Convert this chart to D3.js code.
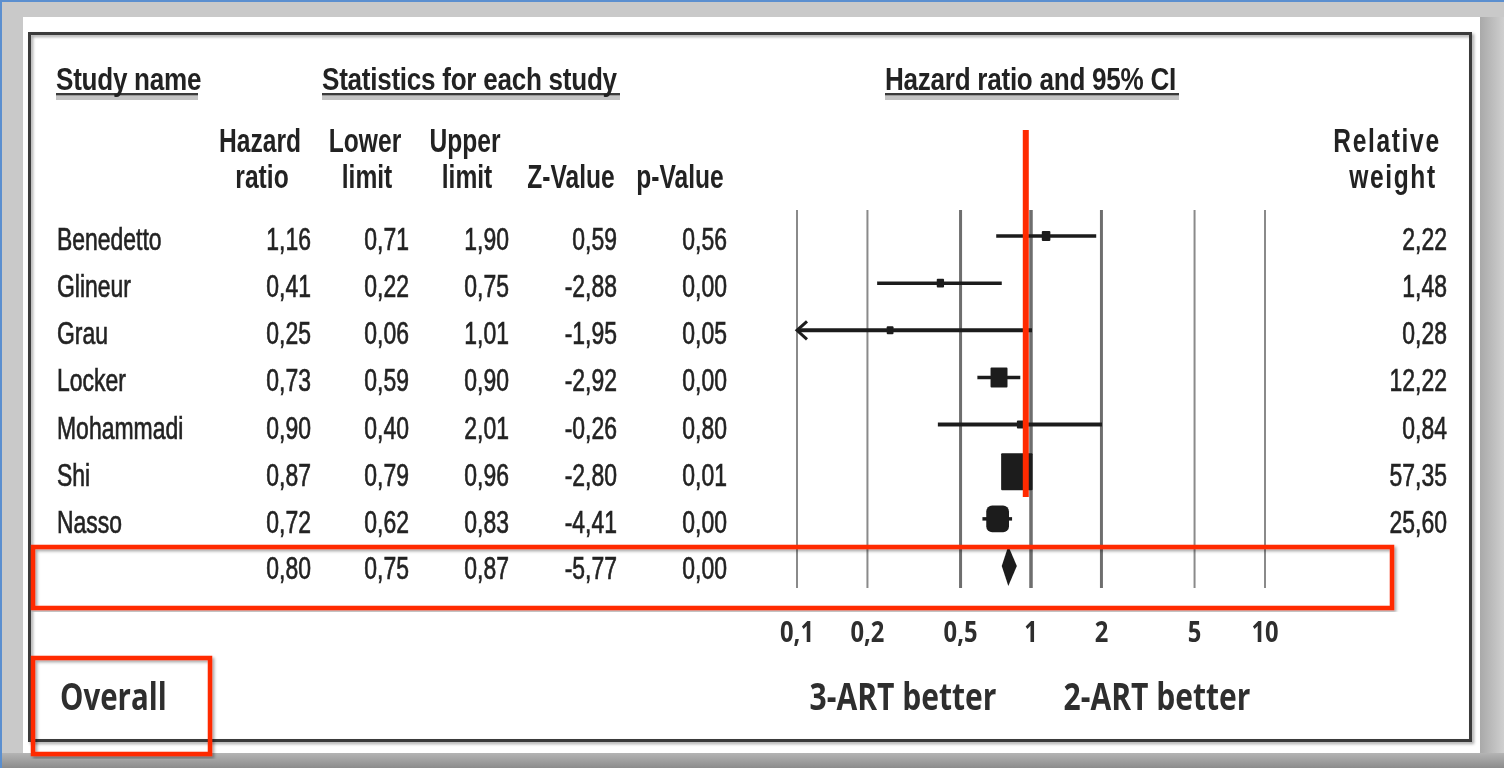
<!DOCTYPE html>
<html>
<head>
<meta charset="utf-8">
<script src="https://cdn.jsdelivr.net/npm/d3@7"></script>
<style>
  body { margin: 0; background: #c9c9c9; }
  svg { display: block; }
  .narrow { font-family: "Liberation Sans", Arial, sans-serif; fill: #242424; }
  .big { font-family: "Open Sans", "Noto Sans", sans-serif; fill: #2e2e2e; }
</style>
</head>
<body>
<script>
// study rows
const studies = ["Benedetto", "Glineur", "Grau", "Locker", "Mohammadi", "Shi", "Nasso"];
const hazard = [1.16, 0.41, 0.25, 0.73, 0.90, 0.87, 0.72];
const lower = [0.71, 0.22, 0.06, 0.59, 0.40, 0.79, 0.62];
const upper = [1.90, 0.75, 1.01, 0.90, 2.01, 0.96, 0.83];
const zValue = [0.59, -2.88, -1.95, -2.92, -0.26, -2.80, -4.41];
const pValue = [0.56, 0.00, 0.05, 0.00, 0.80, 0.01, 0.00];
const weight = [2.22, 1.48, 0.28, 12.22, 0.84, 57.35, 25.60];
// pooled row: hazard, lower, upper, z, p
const overall = [0.80, 0.75, 0.87, -5.77, 0.00];
const ticks = [0.1, 0.2, 0.5, 1, 2, 5, 10];
const tickLabels = ["0,1", "0,2", "0,5", "1", "2", "5", "10"];

const width = 1504, height = 768;
const fmt = d3.formatLocale({decimal: ",", thousands: ".", grouping: [3], currency: ["", ""], minus: "-"}).format(".2f");

const svg = d3.select("body").append("svg").attr("width", width).attr("height", height);
const defs = svg.append("defs");
defs.append("filter").attr("id", "shadow").attr("x", "-5%").attr("y", "-5%").attr("width", "110%").attr("height", "110%")
  .append("feDropShadow").attr("dx", 2).attr("dy", 2).attr("stdDeviation", 1.5)
  .attr("flood-color", "#000").attr("flood-opacity", 0.35);
defs.append("filter").attr("id", "soft")
  .append("feGaussianBlur").attr("stdDeviation", 0.55);
const gr = defs.append("linearGradient").attr("id", "rightShade").attr("x1", 0).attr("x2", 1).attr("y1", 0).attr("y2", 0);
gr.append("stop").attr("offset", 0).attr("stop-color", "#a9a9a9");
gr.append("stop").attr("offset", 1).attr("stop-color", "#cfcfcf");
const gb = defs.append("linearGradient").attr("id", "bottomShade").attr("x1", 0).attr("x2", 0).attr("y1", 0).attr("y2", 1);
gb.append("stop").attr("offset", 0).attr("stop-color", "#b4b4b4");
gb.append("stop").attr("offset", 1).attr("stop-color", "#8c8c8c");

// page / card background
svg.append("rect").attr("width", width).attr("height", height).attr("fill", "#c9c9c9");
svg.append("rect").attr("x", 1480).attr("y", 17).attr("width", 24).attr("height", 751).attr("fill", "url(#rightShade)");
svg.append("rect").attr("x", 0).attr("y", 753).attr("width", width).attr("height", 15).attr("fill", "url(#bottomShade)");
svg.append("rect").attr("x", 23).attr("y", 17).attr("width", 1457).attr("height", 736).attr("fill", "#fff");
svg.append("rect").attr("x", 0).attr("y", 0).attr("width", width).attr("height", 2).attr("fill", "#5b8fcf");
svg.append("rect").attr("x", 0).attr("y", 0).attr("width", 2).attr("height", height).attr("fill", "#5b8fcf");

// inner frame
svg.append("rect").attr("x", 29.5).attr("y", 33.5).attr("width", 1441).attr("height", 707)
  .attr("fill", "none").attr("stroke", "#3a3a3a").attr("stroke-width", 3).attr("filter", "url(#shadow)");

const g = svg.append("g").attr("filter", "url(#soft)");

// text helper: narrow look made by squeezing x, the source is a bit tall so y is stretched
function label(x, y, str, cls, opts = {}) {
  const t = g.append("text").attr("class", cls)
    .attr("transform", `translate(${x},${y}) scale(${opts.sx || 1},${opts.sy || 1})`)
    .attr("text-anchor", opts.anchor || "start")
    .style("font-size", (opts.size || 28) + "px")
    .style("font-weight", opts.weight || 400)
    .text(str);
  if (opts.ls) t.style("letter-spacing", opts.ls + "px");
  if (opts.stroke) t.attr("stroke", "#242424").attr("stroke-width", opts.stroke);
  return t;
}

// scales
const x = d3.scaleLog().domain([0.1, 10]).range([797, 1265]);
const y = d3.scalePoint().domain(d3.range(studies.length + 1)).range([236, 566]);

// header titles with underline
const titles = [
  {t: "Study name", x: 56, w: 142},
  {t: "Statistics for each study", x: 322, w: 298},
  {t: "Hazard ratio and 95% CI", x: 885, w: 294}
];
titles.forEach(d => {
  g.append("rect").attr("x", d.x).attr("y", 96).attr("width", d.w).attr("height", 4).attr("fill", "#c4c4c4");
  g.append("rect").attr("x", d.x).attr("y", 93).attr("width", d.w).attr("height", 2.5).attr("fill", "#3a3a3a");
  label(d.x, 90, d.t, "narrow", {size: 29, weight: 700, sx: 0.9, sy: 1.05, ls: -0.3});
});

// column headers
const colHead = [
  {a: "Hazard", b: "ratio", x: 260},
  {a: "Lower", b: "limit", x: 365},
  {a: "Upper", b: "limit", x: 465},
  {a: "", b: "Z-Value", x: 569},
  {a: "", b: "p-Value", x: 678},
  {a: "Relative", b: "weight", x: 1387}
];
colHead.forEach(d => {
  const rel = d.a === "Relative";
  if (d.a) label(d.x, 152, d.a, "narrow", {size: 30, weight: 700, sx: 0.82, sy: 1.12, anchor: "middle", ls: rel ? 2 : 0});
  label(d.x + (rel ? 6 : 2), 188, d.b, "narrow", {size: 30, weight: 700, sx: 0.82, sy: 1.12, anchor: "middle", ls: rel ? 2 : 0});
});

// table numbers
const colRight = [311, 409, 509, 617, 727];
const rows = studies.map((s, i) => [hazard[i], lower[i], upper[i], zValue[i], pValue[i]]);
const cell = {size: 28, sx: 0.82, sy: 1.12, stroke: 0.6};
rows.forEach((r, i) => {
  label(57, y(i) + 14, studies[i], "narrow", cell);
  r.forEach((v, j) => label(colRight[j], y(i) + 14, fmt(v), "narrow", {...cell, anchor: "end"}));
  label(1447, y(i) + 14, fmt(weight[i]), "narrow", {...cell, anchor: "end"});
});
overall.forEach((v, j) => label(colRight[j], y(studies.length) + 13, fmt(v), "narrow", {...cell, anchor: "end"}));

// vertical grid lines at ticks
const heavy = [0.5, 1, 2];
g.selectAll(".grid").data(ticks).enter().append("line")
  .attr("x1", d => x(d)).attr("x2", d => x(d))
  .attr("y1", 210).attr("y2", 588)
  .attr("stroke", d => heavy.includes(d) ? "#6e6e6e" : "#8a8a8a")
  .attr("stroke-width", d => d === 1 ? 3.5 : heavy.includes(d) ? 3 : 2);

// tick labels
ticks.forEach((d, i) => label(x(d), 642, tickLabels[i], "big", {size: 25, weight: 700, sx: 0.95, sy: 1.15, anchor: "middle"}));

// confidence intervals
const lo = x.domain()[0];
studies.forEach((s, i) => {
  g.append("line")
    .attr("x1", x(Math.max(lower[i], lo))).attr("x2", x(upper[i]))
    .attr("y1", y(i)).attr("y2", y(i))
    .attr("stroke", "#1e1e1e").attr("stroke-width", weight[i] < 1 ? 4 : 3.5);
  if (lower[i] < lo) {
    g.append("path")
      .attr("d", `M${x(lo) + 10},${y(i) - 9}L${x(lo)},${y(i)}L${x(lo) + 10},${y(i) + 9}`)
      .attr("fill", "none").attr("stroke", "#1e1e1e").attr("stroke-width", 3);
  }
});

// weight boxes
const boxH = d3.scalePow().exponent(0.4).domain([0, d3.max(weight)]).range([0, 37]);
const side = w => Math.max(8, boxH(w));
g.selectAll(".box").data(studies).enter().append("rect")
  .attr("x", (d, i) => x(hazard[i]) - side(weight[i]) * 0.85 / 2)
  .attr("y", (d, i) => y(i) - side(weight[i]) / 2)
  .attr("width", (d, i) => side(weight[i]) * 0.85)
  .attr("height", (d, i) => side(weight[i]))
  .attr("rx", (d, i) => weight[i] > 20 && weight[i] < 50 ? 6 : 1)
  .attr("fill", "#1e1e1e");

// pooled diamond
const yo = y(studies.length);
g.append("path")
  .attr("d", `M${x(overall[1])},${yo}L${x(overall[0])},${yo - 20}L${x(overall[2])},${yo}L${x(overall[0])},${yo + 20}Z`)
  .attr("fill", "#1e1e1e");

// bottom labels
label(60, 710, "Overall", "big", {size: 31, weight: 700, sx: 0.95, sy: 1.2});
label(903, 710, "3-ART better", "big", {size: 31, weight: 700, sx: 0.97, sy: 1.2, anchor: "middle"});
label(1157, 710, "2-ART better", "big", {size: 31, weight: 700, sx: 0.97, sy: 1.2, anchor: "middle"});

// red annotations
const red = "#ff2a00";
svg.append("rect").attr("x", 33).attr("y", 547).attr("width", 1359).attr("height", 61)
  .attr("fill", "none").attr("stroke", red).attr("stroke-width", 4.5).attr("filter", "url(#shadow)");
svg.append("rect").attr("x", 33).attr("y", 658).attr("width", 177).attr("height", 96)
  .attr("fill", "none").attr("stroke", red).attr("stroke-width", 4.5).attr("filter", "url(#shadow)");
svg.append("line").attr("x1", x(0.95)).attr("x2", x(0.95)).attr("y1", 130).attr("y2", 497)
  .attr("stroke", red).attr("stroke-width", 6);
</script>
</body>
</html>
